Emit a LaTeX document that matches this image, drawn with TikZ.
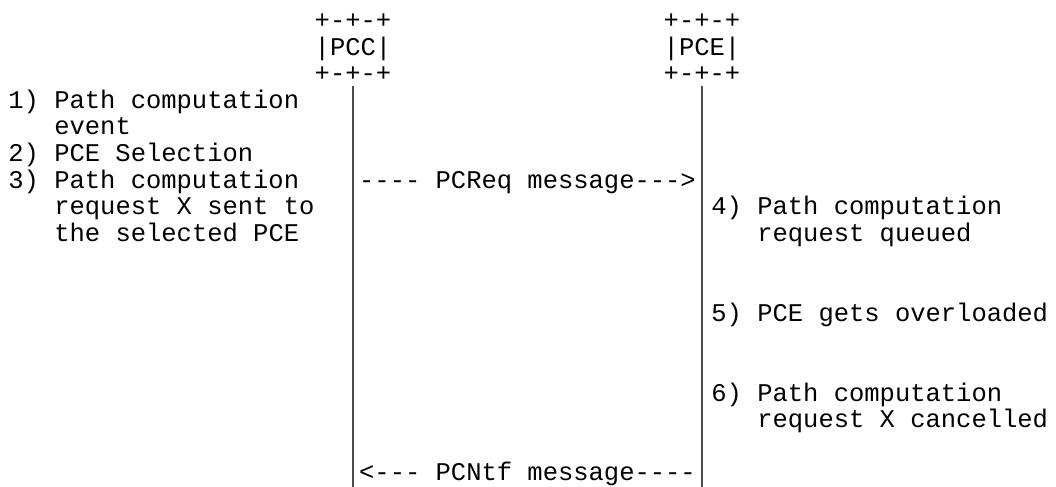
\documentclass[tikz,border=0pt]{standalone}
\usepackage{fontspec}
\setmonofont{Liberation Mono}
\usetikzlibrary{positioning, calc}
\newcommand{\stepindent}{\phantom{0) }}

\begin{document}
\begin{tikzpicture}[x=0.5pt, y=-0.5pt,
  ascii/.style={font=\ttfamily\fontsize{12.75pt}{13.3pt}\selectfont,inner sep=0pt,align=left},
  entity/.style={ascii,align=center,anchor=base},
  stepnote/.style={ascii,anchor=base west},
  msg/.style={ascii,anchor=base},
  life/.style={line width=0.7pt,black!70}]
  \useasboundingbox (0,0) rectangle (1056,487);
  \coordinate (bottom) at (0,487);
  % base anchor of a multi-line node sits on its last line
  \node[entity] (pcc) at (353,81.7) {+-+-+\\|PCC|\\+-+-+};
  \node[entity] (pce) at (702,81.7) {+-+-+\\|PCE|\\+-+-+};
  \draw[life] ([yshift=-2pt]pcc.south) -- (pcc.south |- bottom);
  \draw[life] ([yshift=-2pt]pce.south) -- (pce.south |- bottom);
  \node[stepnote] (s1) at (8,134.9) {1) Path computation\\\stepindent event};
  \node[stepnote] (s2) at (8,161.5) {2) PCE Selection};
  \node[stepnote] (s3) at (8,241.3) {3) Path computation\\\stepindent request X sent to\\\stepindent the selected PCE};
  \node[stepnote] (s4) at (711,241.3) {4) Path computation\\\stepindent request queued};
  \node[stepnote] (s5) at (711,321.1) {5) PCE gets overloaded};
  \node[stepnote] (s6) at (711,427.6) {6) Path computation\\\stepindent request X cancelled};
  \node[msg] (req) at (527.5,188.1) {---- PCReq message--->};
  \node[msg] (ntf) at (527.5,480.9) {<--- PCNtf message----};
\end{tikzpicture}
\end{document}
